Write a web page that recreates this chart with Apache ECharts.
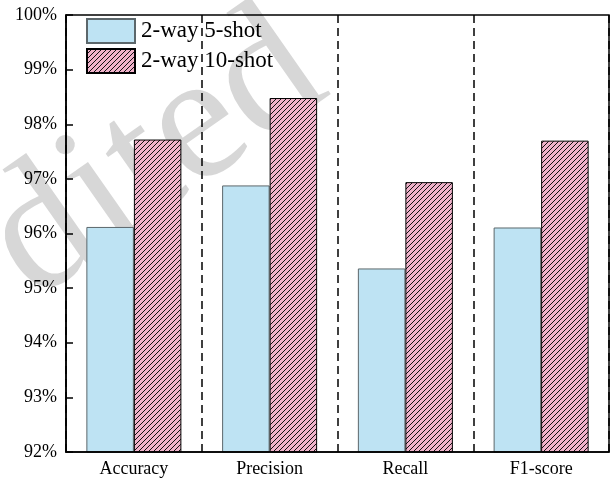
<!DOCTYPE html>
<html>
<head>
<meta charset="utf-8">
<script src="https://cdn.jsdelivr.net/npm/echarts@6/dist/echarts.min.js"></script>
<style>
  html, body { margin: 0; padding: 0; background: #fff; }
  #chart { width: 615px; height: 481px; }
</style>
</head>
<body>
<div id="chart"></div>
<script>
// Metrics on the x axis
const categories = ['Accuracy', 'Precision', 'Recall', 'F1-score'];
// Scores (%) for each setting
const fiveShot = [96.12, 96.88, 95.36, 96.11];
const tenShot = [97.72, 98.48, 96.94, 97.70];
const seriesNames = ['2-way 5-shot', '2-way 10-shot'];

// Pink fill with diagonal black hatching for the 10-shot bars
function hatchPattern() {
  const s = 5;
  const c = document.createElement('canvas');
  c.width = s; c.height = s;
  const g = c.getContext('2d');
  g.fillStyle = '#f0b2ca';
  g.fillRect(0, 0, s, s);
  g.strokeStyle = '#111';
  g.lineWidth = 1;
  g.beginPath();
  g.moveTo(0, s); g.lineTo(s, 0);
  g.moveTo(-1, 1); g.lineTo(1, -1);
  g.moveTo(s - 1, s + 1); g.lineTo(s + 1, s - 1);
  g.stroke();
  return c;
}

const serif = '"Liberation Serif", "Times New Roman", serif';
const chart = echarts.init(document.getElementById('chart'));

chart.setOption({
  animation: false,
  backgroundColor: '#fff',
  grid: {
    left: 66, right: 6, top: 15, bottom: 29,
    show: true, backgroundColor: 'transparent',
    borderColor: '#000', borderWidth: 1.5, z: 20
  },
  legend: {
    orient: 'vertical',
    left: 84, top: 16,
    padding: [2, 6, 2, 2],
    z: 20,
    itemWidth: 48, itemHeight: 24, itemGap: 4,
    icon: 'rect',
    textStyle: { fontFamily: serif, fontSize: 23, color: '#000', padding: [0, 0, 0, 1] },
    data: seriesNames
  },
  xAxis: {
    type: 'category',
    data: categories,
    z: 21,
    axisLine: { lineStyle: { color: '#000', width: 1.5 } },
    axisTick: { show: false },
    axisLabel: { fontFamily: serif, fontSize: 18, color: '#000', margin: 8 },
    splitLine: { show: true, lineStyle: { color: '#000', width: 1.5, type: [8, 5] } }
  },
  yAxis: {
    type: 'value',
    min: 92, max: 100, interval: 1,
    z: 21,
    axisLine: { show: true, lineStyle: { color: '#000', width: 1.5 } },
    axisTick: { show: true, inside: true, length: 7, lineStyle: { color: '#000', width: 1.5 } },
    axisLabel: { fontFamily: serif, fontSize: 18, color: '#000', margin: 9, formatter: '{value}%' },
    splitLine: { show: false }
  },
  series: [
    {
      name: seriesNames[0],
      type: 'bar',
      z: 2,
      data: fiveShot,
      barGap: '0%',
      barCategoryGap: '30%',
      itemStyle: { color: '#bee3f3', borderColor: '#5c676b', borderWidth: 1 }
    },
    {
      name: seriesNames[1],
      type: 'bar',
      z: 2,
      data: tenShot,
      barGap: '0%',
      barCategoryGap: '30%',
      itemStyle: { color: { image: hatchPattern(), repeat: 'repeat' }, borderColor: '#000', borderWidth: 1 }
    }
  ],
  graphic: {
    z: 10,
    elements: [
      {
        type: 'text',
        x: 156, y: 158,
        rotation: 35 * Math.PI / 180,
        silent: true,
        style: {
          text: 'dited',
          font: '182px "Liberation Serif", serif',
          fill: 'rgba(150,150,150,0.38)',
          align: 'center',
          verticalAlign: 'middle'
        }
      }
    ]
  }
});
</script>
</body>
</html>
